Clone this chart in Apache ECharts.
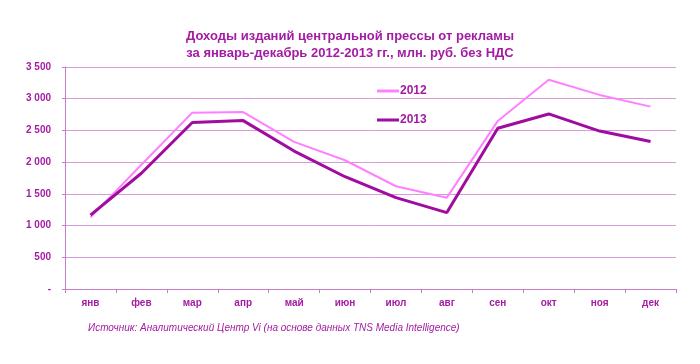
<!DOCTYPE html>
<html><head><meta charset="utf-8">
<script src="https://cdn.jsdelivr.net/npm/echarts@6/dist/echarts.min.js"></script>
<style>html,body{margin:0;padding:0;background:#fff}#c{width:700px;height:364px}</style>
</head><body><div id="c"></div>
<script>
const categories = ['янв','фев','мар','апр','май','июн','июл','авг','сен','окт','ноя','дек'];
const values2012 = [1130, 1960, 2780, 2790, 2320, 2030, 1620, 1440, 2650, 3300, 3060, 2875];
const values2013 = [1165, 1825, 2625, 2655, 2175, 1770, 1440, 1205, 2535, 2760, 2490, 2325];
const seriesNames = ['2012', '2013'];
const titleLines = ['Доходы изданий центральной прессы от рекламы', 'за январь-декабрь 2012-2013 гг., млн. руб. без НДС'];
const sourceText = 'Источник: Аналитический Центр Vi (на основе данных TNS Media Intelligence)';

const purple = '#a31ca3';
const font = 'Arial, "Liberation Sans", sans-serif';
const chart = echarts.init(document.getElementById('c'));
chart.setOption({
  animation: false,
  backgroundColor: '#fff',
  graphic: [{
    type: 'text', x: 350, y: 28,
    style: {text: titleLines.join('\n'), align: 'center', fill: purple, fontSize: 13, fontWeight: 'bold',
      fontFamily: font, lineHeight: 17}
  }, {
    type: 'text', x: 88, y: 323,
    style: {text: sourceText, fill: purple, fontSize: 10, fontStyle: 'italic', fontFamily: font}
  }],
  legend: {
    orient: 'vertical', left: 372, top: 80, itemGap: 17, itemWidth: 22, itemHeight: 3, icon: 'rect',
    textStyle: {color: purple, fontSize: 12, fontWeight: 'bold', fontFamily: font, padding: [0, 0, 0, -4]},
    data: seriesNames
  },
  grid: {left: 65, right: 24, top: 67, bottom: 75},
  xAxis: {
    type: 'category', data: categories, boundaryGap: true,
    axisLine: {lineStyle: {color: '#c77cc7'}},
    axisTick: {show: true, length: 4, lineStyle: {color: '#c77cc7'}},
    axisLabel: {color: purple, fontSize: 10, fontWeight: 'bold', fontFamily: font, margin: 9}
  },
  yAxis: {
    type: 'value', min: 0, max: 3500, interval: 500,
    axisLine: {show: true, lineStyle: {color: '#c77cc7'}},
    axisTick: {show: true, length: 3, lineStyle: {color: '#c77cc7'}},
    splitLine: {lineStyle: {color: '#d89ad8'}},
    axisLabel: {
      color: purple, fontSize: 10, fontWeight: 'bold', fontFamily: font, margin: 14,
      formatter: v => v === 0 ? '-' : String(v).replace(/\B(?=(\d{3})+(?!\d))/g, ' ')
    }
  },
  series: [{
    name: seriesNames[0], type: 'line', data: values2012, symbol: 'none',
    lineStyle: {color: '#ff80ff', width: 2}, itemStyle: {color: '#ff80ff'}
  }, {
    name: seriesNames[1], type: 'line', data: values2013, symbol: 'none',
    lineStyle: {color: '#a00ba0', width: 3}, itemStyle: {color: '#a00ba0'}
  }]
});
</script></body></html>
